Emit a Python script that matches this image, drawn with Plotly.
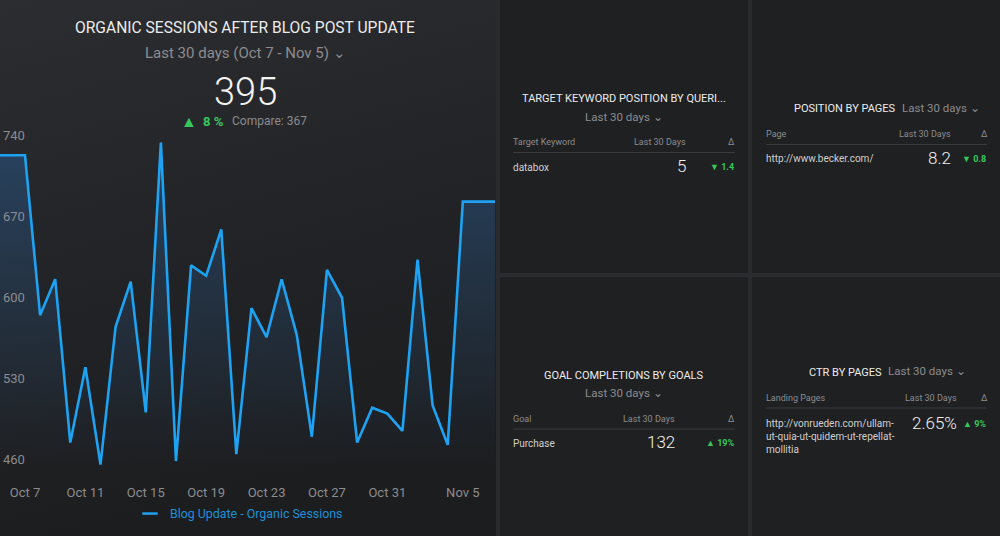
import base64
import plotly.graph_objects as go

# ---------------- data ----------------
dates = ["2019-10-07", "2019-10-08", "2019-10-09", "2019-10-10", "2019-10-11", "2019-10-12",
         "2019-10-13", "2019-10-14", "2019-10-15", "2019-10-16", "2019-10-17", "2019-10-18",
         "2019-10-19", "2019-10-20", "2019-10-21", "2019-10-22", "2019-10-23", "2019-10-24",
         "2019-10-25", "2019-10-26", "2019-10-27", "2019-10-28", "2019-10-29", "2019-10-30",
         "2019-10-31", "2019-11-01", "2019-11-02", "2019-11-03", "2019-11-04", "2019-11-05"]
sessions = [723, 585, 616, 475, 540, 456, 575, 614, 501, 734, 459, 628, 619, 659, 465,
            591, 566, 616, 568, 480, 624, 600, 475, 505, 500, 485, 633, 507, 473, 683]
series_name = "Blog Update - Organic Sessions"
x_tick_vals = ["2019-10-07", "2019-10-11", "2019-10-15", "2019-10-19", "2019-10-23",
               "2019-10-27", "2019-10-31", "2019-11-05"]
x_tick_text = ["Oct 7", "Oct 11", "Oct 15", "Oct 19", "Oct 23", "Oct 27", "Oct 31", "Nov 5"]
y_tick_vals = [460, 530, 600, 670, 740]

total_value = "395"
change_pct = "8 %"
compare_value = "Compare: 367"

kw_rows = [("databox", "5", "▼ 1.4")]
page_rows = [("http://www.becker.com/", "8.2", "▼ 0.8")]
goal_rows = [("Purchase", "132", "▲ 19%")]
ctr_rows = [("http://vonrueden.com/ullam-<br>ut-quia-ut-quidem-ut-repellat-<br>mollitia", "2.65%", "▲ 9%")]

# ---------------- styles ----------------
W, H = 1000, 536
FONT = "Roboto"
BLUE = "#1ea3f3"
GREEN = "#36c75b"
GRAY = "#8b8c8f"
WHITE = "#ececec"
SEP = "#2a2b2e"
CARD = "#1f2022"
CHEV = " \u2304"

x_range = ["2019-10-05 08:15", "2019-11-07 03:10"]
y_range = [453, 753.5]


def px(x):
    return x / W


def py(y):
    return 1 - y / H


def ann(text, x, y, size, color, anchor="center", weight=400, yanchor="middle"):
    if anchor == "left":
        x -= 2
    elif anchor == "right":
        x += 2
    return dict(text=text, x=px(x), y=py(y), xref="paper", yref="paper",
                xanchor=anchor, yanchor=yanchor, showarrow=False, align="left",
                font=dict(size=size, color=color, family=FONT, weight=weight))


fig = go.Figure()

# line extended to the edges of the plot area with the first / last values
x_line = [x_range[0]] + dates + [x_range[1]]
y_line = [sessions[0]] + sessions + [sessions[-1]]

fig.add_trace(go.Scatter(
    x=x_line, y=y_line, mode="lines", showlegend=False,
    line=dict(color=BLUE, width=2.6),
    fill="tozeroy",
    fillgradient=dict(type="vertical", start=y_range[0], stop=740,
                      colorscale=[[0, "rgba(40,80,120,0.0)"], [1, "rgba(40,82,128,0.62)"]]),
    hoverinfo="skip",
))
fig.add_trace(go.Scatter(
    x=[None], y=[None], mode="markers", name=series_name, showlegend=True,
    marker=dict(symbol="line-ew-open", size=11, color=BLUE, line=dict(color=BLUE, width=2.5)),
))

# ---------------- backgrounds ----------------
svg = ("<svg xmlns='http://www.w3.org/2000/svg' width='496' height='536'>"
       "<defs><linearGradient id='g' x1='0' y1='0' x2='0.25' y2='1'>"
       "<stop offset='0' stop-color='#2c2d30'/><stop offset='0.55' stop-color='#222326'/>"
       "<stop offset='1' stop-color='#1c1d1f'/></linearGradient></defs>"
       "<rect width='496' height='536' fill='url(#g)'/></svg>")
svg_uri = "data:image/svg+xml;base64," + base64.b64encode(svg.encode()).decode()

shapes = []
for (x0, y0, x1, y1) in [(500, 0, 748, 273), (752, 0, 1000, 273),
                         (500, 277, 748, 536), (752, 277, 1000, 536)]:
    shapes.append(dict(type="rect", xref="paper", yref="paper", layer="below",
                       x0=px(x0), x1=px(x1), y0=py(y1), y1=py(y0),
                       fillcolor=CARD, line=dict(width=0)))

# table separators
for (x0, x1, y) in [(513, 735, 152.5), (766, 987, 144.5), (513, 735, 429), (766, 987, 408)]:
    shapes.append(dict(type="line", xref="paper", yref="paper", layer="above",
                       x0=px(x0), x1=px(x1), y0=py(y), y1=py(y),
                       line=dict(color="#3a3b3e", width=1)))

anns = []
# left card header
anns.append(ann("ORGANIC SESSIONS AFTER BLOG POST UPDATE", 245, 28, 15.6, WHITE))
anns.append(ann("Last 30 days (Oct 7 - Nov 5)" + CHEV, 245, 53, 15, GRAY))
anns.append(ann(total_value, 245, 92, 38, "#f3f3f3", weight=300))
anns.append(ann("▲", 189, 121, 16, GREEN))
anns.append(ann(change_pct, 203, 121, 13, GREEN, anchor="left", weight=700))
anns.append(ann(compare_value, 232, 121, 12, GRAY, anchor="left"))

HDR = 9
ROW = 10
BIG = 17
DS = 9

# card 1
anns.append(ann("TARGET KEYWORD POSITION BY QUERI...", 624, 99, 11, WHITE))
anns.append(ann("Last 30 days" + CHEV, 624, 117, 11.5, GRAY))
anns.append(ann("Target Keyword", 513, 142, HDR, GRAY, anchor="left"))
anns.append(ann("Last 30 Days", 686, 142, HDR, GRAY, anchor="right"))
anns.append(ann("Δ", 731, 142, HDR, GRAY))
for i, (lab, val, d) in enumerate(kw_rows):
    anns.append(ann(lab, 513, 167, ROW, "#cfcfcf", anchor="left"))
    anns.append(ann(val, 686, 166, BIG, "#f0f0f0", anchor="right", weight=300))
    anns.append(ann(d, 734, 167, DS, GREEN, anchor="right", weight=700))

# card 2
anns.append(ann("POSITION BY PAGES", 794, 108, 11, WHITE, anchor="left"))
anns.append(ann("Last 30 days" + CHEV, 902, 108, 11.5, GRAY, anchor="left"))
anns.append(ann("Page", 766, 134, HDR, GRAY, anchor="left"))
anns.append(ann("Last 30 Days", 951, 134, HDR, GRAY, anchor="right"))
anns.append(ann("Δ", 984, 134, HDR, GRAY))
for i, (lab, val, d) in enumerate(page_rows):
    anns.append(ann(lab, 766, 159, ROW, "#cfcfcf", anchor="left"))
    anns.append(ann(val, 951, 158, BIG, "#f0f0f0", anchor="right", weight=300))
    anns.append(ann(d, 986, 159, DS, GREEN, anchor="right", weight=700))

# card 3
anns.append(ann("GOAL COMPLETIONS BY GOALS", 624, 375, 11, WHITE))
anns.append(ann("Last 30 days" + CHEV, 624, 393, 11.5, GRAY))
anns.append(ann("Goal", 513, 419, HDR, GRAY, anchor="left"))
anns.append(ann("Last 30 Days", 675, 419, HDR, GRAY, anchor="right"))
anns.append(ann("Δ", 731, 419, HDR, GRAY))
for i, (lab, val, d) in enumerate(goal_rows):
    anns.append(ann(lab, 513, 443, ROW, "#cfcfcf", anchor="left"))
    anns.append(ann(val, 675, 442, BIG, "#f0f0f0", anchor="right", weight=300))
    anns.append(ann(d, 734, 443, DS, GREEN, anchor="right", weight=700))

# card 4
anns.append(ann("CTR BY PAGES", 809, 372, 11, WHITE, anchor="left"))
anns.append(ann("Last 30 days" + CHEV, 888, 371, 11.5, GRAY, anchor="left"))
anns.append(ann("Landing Pages", 766, 398, HDR, GRAY, anchor="left"))
anns.append(ann("Last 30 Days", 957, 398, HDR, GRAY, anchor="right"))
anns.append(ann("Δ", 984, 398, HDR, GRAY))
for i, (lab, val, d) in enumerate(ctr_rows):
    anns.append(ann(lab, 766, 416, ROW, "#cfcfcf", anchor="left", yanchor="top"))
    anns.append(ann(val, 957, 423, BIG, "#f0f0f0", anchor="right", weight=300))
    anns.append(ann(d, 986, 424, DS, GREEN, anchor="right", weight=700))

fig.update_layout(
    width=W, height=H,
    margin=dict(l=0, r=0, t=0, b=0),
    paper_bgcolor=SEP,
    plot_bgcolor="rgba(0,0,0,0)",
    font=dict(family=FONT, color=GRAY),
    images=[dict(source=svg_uri, xref="paper", yref="paper", x=0, y=1,
                 sizex=0.496, sizey=1, sizing="stretch", layer="below")],
    shapes=shapes,
    annotations=anns,
    showlegend=True,
    legend=dict(orientation="h", x=0.239, y=py(514), xanchor="center", yanchor="middle",
                bgcolor="rgba(0,0,0,0)", font=dict(size=12.4, color="#1d8fd6", family=FONT),
                itemwidth=30),
    xaxis=dict(domain=[0, 0.495], range=x_range, type="date",
               tickvals=x_tick_vals, ticktext=x_tick_text,
               showgrid=False, zeroline=False, showline=False,
               ticks="outside", ticklen=12, tickcolor="rgba(0,0,0,0)",
               tickfont=dict(size=13, color=GRAY, family=FONT)),
    yaxis=dict(domain=[py(468), py(120)], range=y_range,
               tickvals=y_tick_vals, ticklabelposition="inside",
               showgrid=False, zeroline=False, showline=False, ticks="",
               tickfont=dict(size=13, color=GRAY, family=FONT)),
    hovermode=False,
)

fig.write_html("out.html")
